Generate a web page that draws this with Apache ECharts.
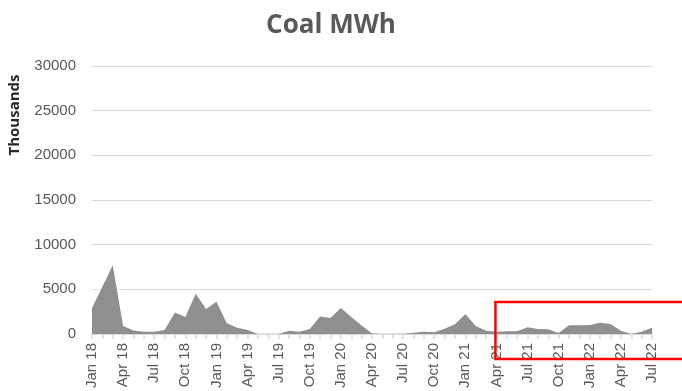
<!DOCTYPE html>
<html>
<head>
<meta charset="utf-8">
<script src="https://cdn.jsdelivr.net/npm/echarts@6/dist/echarts.min.js"></script>
<style>
  html, body { margin: 0; padding: 0; background: #fff; }
  #chart { width: 682px; height: 391px; }
</style>
</head>
<body>
<div id="chart"></div>
<script>
// Monthly coal generation, in thousands of MWh
const months = [
  'Jan 18','Feb 18','Mar 18','Apr 18','May 18','Jun 18','Jul 18','Aug 18','Sep 18','Oct 18','Nov 18','Dec 18',
  'Jan 19','Feb 19','Mar 19','Apr 19','May 19','Jun 19','Jul 19','Aug 19','Sep 19','Oct 19','Nov 19','Dec 19',
  'Jan 20','Feb 20','Mar 20','Apr 20','May 20','Jun 20','Jul 20','Aug 20','Sep 20','Oct 20','Nov 20','Dec 20',
  'Jan 21','Feb 21','Mar 21','Apr 21','May 21','Jun 21','Jul 21','Aug 21','Sep 21','Oct 21','Nov 21','Dec 21',
  'Jan 22','Feb 22','Mar 22','Apr 22','May 22','Jun 22','Jul 22'
];

const coalMWh = [
  2900, 5300, 7700, 900, 400, 250, 250, 450, 2400, 1900, 4500, 2800,
  3600, 1200, 700, 450, 0, 0, 0, 350, 250, 550, 1950, 1800,
  2900, 1900, 950, 50, 0, 0, 0, 150, 250, 200, 600, 1100,
  2250, 900, 350, 250, 300, 300, 750, 560, 530, 100, 970, 970,
  1000, 1260, 1120, 350, 0, 250, 700
];

const yTicks = [0, 5000, 10000, 15000, 20000, 25000, 30000];

// Highlighted stretch, starting at this month
const highlightStart = 'Apr 21';

const labelColor = '#595959';
const labelFont = 'Liberation Sans';

const chart = echarts.init(document.getElementById('chart'));

chart.setOption({
  animation: false,
  backgroundColor: '#ffffff',
  title: {
    text: 'Coal MWh',
    left: 326,
    top: 8,
    textAlign: 'center',
    textStyle: {
      fontFamily: 'Open Sans',
      fontWeight: 'bold',
      fontSize: 26,
      color: labelColor
    }
  },
  grid: {
    left: 92, right: 30, top: 66, bottom: 57,
    containLabel: false,
    outerBoundsMode: 'none'
  },
  xAxis: {
    type: 'category',
    data: months,
    boundaryGap: false,
    axisLine: { show: true, lineStyle: { color: '#d9d9d9', width: 1.5 } },
    axisTick: { show: true, interval: 0, length: 5, lineStyle: { color: '#d9d9d9', width: 1.5 } },
    axisLabel: {
      interval: 2,
      rotate: 90,
      margin: 9,
      fontFamily: labelFont,
      fontSize: 15,
      color: labelColor
    },
    splitLine: { show: false }
  },
  yAxis: {
    type: 'value',
    min: yTicks[0],
    max: yTicks[yTicks.length - 1],
    interval: yTicks[1] - yTicks[0],
    axisLine: { show: false },
    axisTick: { show: false },
    axisLabel: {
      margin: 16,
      fontFamily: labelFont,
      fontSize: 15,
      color: labelColor,
      formatter: v => String(v)
    },
    splitLine: { lineStyle: { color: '#d9d9d9', width: 1 } }
  },
  series: [{
    type: 'line',
    data: coalMWh,
    symbol: 'none',
    lineStyle: { width: 0 },
    areaStyle: {
      color: '#8f8f8f',
      opacity: 1,
      shadowBlur: 8,
      shadowColor: 'rgba(255,255,255,1)'
    },
    z: 3
  }]
});

// Unit caption beside the value axis, and a red outline around the most recent months
const leftPx = chart.convertToPixel({ xAxisIndex: 0 }, highlightStart);
chart.setOption({
  graphic: [{
    type: 'text',
    x: 15,
    y: 115,
    rotation: Math.PI / 2,
    style: {
      text: 'Thousands',
      fontFamily: 'Open Sans',
      fontWeight: 'bold',
      fontSize: 15,
      fill: '#262626',
      align: 'center',
      verticalAlign: 'middle'
    }
  }, {
    type: 'rect',
    shape: { x: leftPx - 1, y: 302, width: 700 - leftPx, height: 57 },
    style: { fill: 'none', stroke: '#ff0000', lineWidth: 2.5 },
    z: 100
  }]
});
</script>
</body>
</html>
